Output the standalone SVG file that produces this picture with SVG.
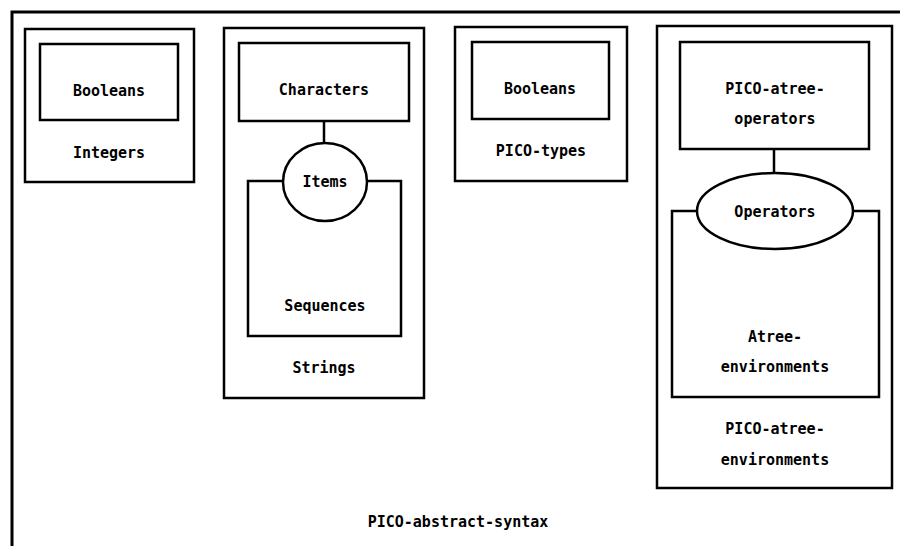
<svg xmlns="http://www.w3.org/2000/svg" width="900" height="546" viewBox="0 0 900 546">
  <style>
    .box { fill: #fff; stroke: #000; stroke-width: 2.5; }
    .frame { fill: none; stroke: #000; stroke-width: 3; }
    .link { stroke: #000; stroke-width: 2.5; fill: none; }
    text { font-family: "DejaVu Sans Mono", "Liberation Mono", monospace; font-weight: bold; font-size: 15px; fill: #000; text-anchor: middle; }
  </style>
  <rect width="900" height="546" fill="#fff"/>

  <!-- enclosing module, runs past the right and bottom edges -->
  <g id="pico-abstract-syntax">
    <rect class="frame" x="12" y="12" width="920" height="560"/>
    <text x="458" y="527">PICO-abstract-syntax</text>
  </g>

  <g id="integers">
    <rect class="box" x="25" y="29" width="169" height="153"/>
    <text x="109" y="158">Integers</text>
  </g>
  <g id="integers-booleans">
    <rect class="box" x="40" y="44" width="138" height="76"/>
    <text x="109" y="96">Booleans</text>
  </g>

  <g id="strings">
    <rect class="box" x="224" y="28" width="200" height="370"/>
    <text x="324" y="373">Strings</text>
  </g>
  <g id="characters">
    <rect class="box" x="239" y="43" width="170" height="78"/>
    <text x="324" y="95">Characters</text>
  </g>
  <g id="sequences">
    <rect class="box" x="248" y="181" width="153" height="155"/>
    <text x="325" y="311">Sequences</text>
  </g>

  <g id="pico-types">
    <rect class="box" x="455" y="27" width="172" height="154"/>
    <text x="541" y="156">PICO-types</text>
  </g>
  <g id="pico-types-booleans">
    <rect class="box" x="472" y="42" width="137" height="77"/>
    <text x="540" y="94">Booleans</text>
  </g>

  <g id="pico-atree-environments">
    <rect class="box" x="657" y="26" width="235" height="462"/>
    <text x="775" y="434">PICO-atree-</text>
    <text x="775" y="465">environments</text>
  </g>
  <g id="pico-atree-operators">
    <rect class="box" x="680" y="42" width="189" height="107"/>
    <text x="775" y="94">PICO-atree-</text>
    <text x="775" y="124">operators</text>
  </g>
  <g id="atree-environments">
    <rect class="box" x="672" y="211" width="207" height="186"/>
    <text x="775" y="342">Atree-</text>
    <text x="775" y="372">environments</text>
  </g>

  <!-- connectors between a module and its parameter -->
  <g id="connectors">
    <line class="link" x1="324" y1="121" x2="324" y2="143"/>
    <line class="link" x1="774" y1="149" x2="774" y2="173"/>
  </g>

  <g id="items">
    <ellipse class="box" cx="325" cy="182" rx="42" ry="39"/>
    <text x="325" y="187">Items</text>
  </g>
  <g id="operators">
    <ellipse class="box" cx="775" cy="211" rx="78" ry="38"/>
    <text x="775" y="217">Operators</text>
  </g>
</svg>
